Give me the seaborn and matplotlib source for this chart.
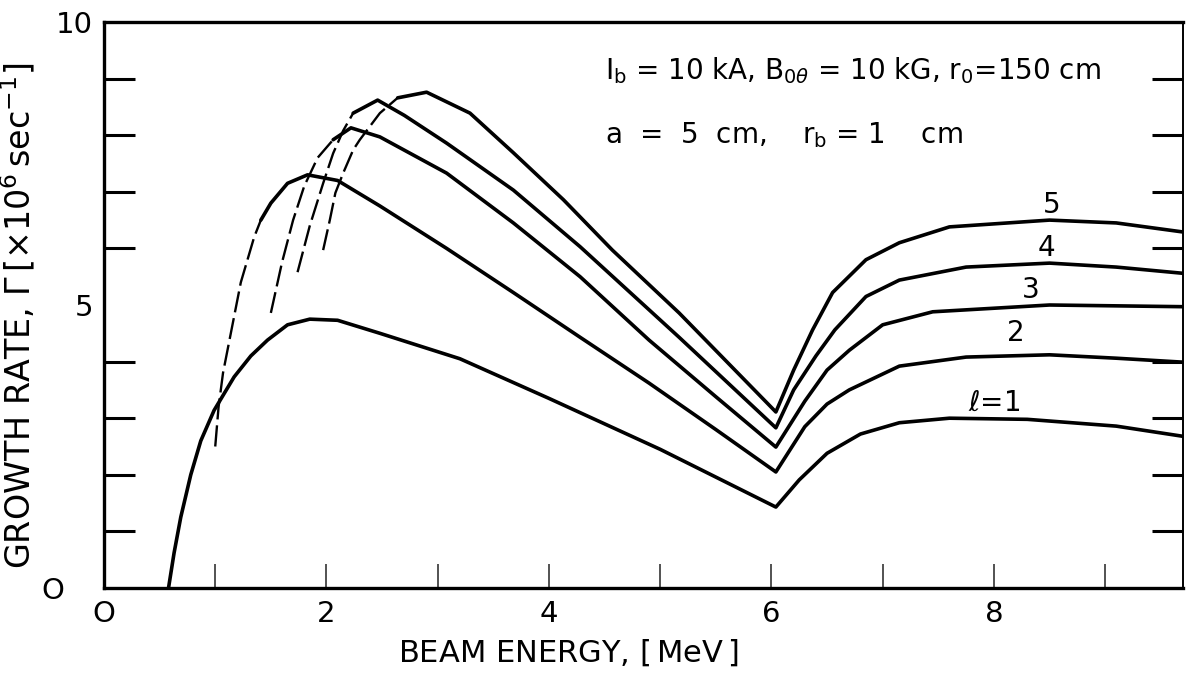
import numpy as np
import pandas as pd
import seaborn as sns
import matplotlib
matplotlib.use("Agg")
import matplotlib.pyplot as plt

# growth rate curves, l = 1..5
# "rise" = the broken (dashed) left branch, "main" = solid rest
l1_x = [0.58, 0.63, 0.69, 0.78, 0.87, 0.99, 1.17, 1.32, 1.47, 1.65, 1.85, 2.1, 2.48, 3.2, 4.0, 5.0,
        6.04, 6.25, 6.5, 6.8, 7.15, 7.6, 8.3, 9.1, 9.7]
l1_y = [0.0, 0.62, 1.25, 2.0, 2.6, 3.14, 3.73, 4.1, 4.38, 4.65, 4.75, 4.73, 4.5, 4.05, 3.35, 2.45,
        1.43, 1.91, 2.38, 2.72, 2.92, 3.0, 2.98, 2.86, 2.68]

l2_rise_x = [1.0, 1.03, 1.07, 1.14, 1.23, 1.35, 1.41]
l2_rise_y = [2.5, 3.2, 3.8, 4.5, 5.4, 6.2, 6.5]
l2_x = [1.41, 1.5, 1.65, 1.83, 2.1, 2.48, 3.08, 3.68, 4.28, 4.9, 5.5, 6.04,
        6.3, 6.5, 6.7, 7.15, 7.75, 8.5, 9.1, 9.7]
l2_y = [6.5, 6.8, 7.15, 7.3, 7.2, 6.75, 6.0, 5.22, 4.43, 3.62, 2.8, 2.05,
        2.85, 3.25, 3.5, 3.92, 4.08, 4.12, 4.06, 3.99]

l3_rise_x = [1.5, 1.6, 1.7, 1.8, 1.92, 2.06]
l3_rise_y = [4.86, 5.75, 6.5, 7.1, 7.6, 7.92]
l3_x = [2.06, 2.22, 2.48, 3.08, 3.68, 4.28, 4.9, 5.5, 6.04,
        6.3, 6.5, 6.7, 7.0, 7.45, 8.5, 9.7]
l3_y = [7.92, 8.13, 7.97, 7.33, 6.45, 5.5, 4.38, 3.38, 2.49,
        3.3, 3.85, 4.2, 4.65, 4.88, 5.0, 4.97]

l4_rise_x = [1.74, 1.85, 1.97, 2.06, 2.15, 2.24]
l4_rise_y = [5.58, 6.4, 7.15, 7.68, 8.08, 8.39]
l4_x = [2.24, 2.46, 2.7, 3.08, 3.68, 4.28, 5.17, 6.04,
        6.2, 6.4, 6.57, 6.85, 7.15, 7.75, 8.5, 9.1, 9.7]
l4_y = [8.39, 8.62, 8.35, 7.86, 7.03, 6.03, 4.43, 2.83,
        3.5, 4.1, 4.56, 5.15, 5.44, 5.67, 5.74, 5.67, 5.56]

l5_rise_x = [1.97, 2.03, 2.08, 2.15, 2.24, 2.3, 2.48, 2.64]
l5_rise_y = [5.97, 6.5, 6.98, 7.33, 7.74, 7.92, 8.39, 8.66]
l5_x = [2.64, 2.9, 3.29, 3.68, 4.13, 4.57, 5.17, 6.04,
        6.2, 6.37, 6.55, 6.85, 7.15, 7.6, 8.5, 9.1, 9.7]
l5_y = [8.66, 8.76, 8.39, 7.69, 6.86, 5.97, 4.86, 3.11,
        3.85, 4.56, 5.22, 5.8, 6.1, 6.38, 6.5, 6.45, 6.29]

curve_labels = [r"$\ell$=1", "2", "3", "4", "5"]
label_x = [8.0, 8.2, 8.33, 8.47, 8.52]
label_y = [3.27, 4.5, 5.27, 6.0, 6.77]

x_ticks = [0, 2, 4, 6, 8]
y_ticks = [0, 5, 10]

sns.set_style("white")
plt.rcParams['font.family'] = ['DejaVu Sans']
plt.rcParams.update({"text.color": "black", "axes.labelcolor": "black",
                     "xtick.color": "black", "ytick.color": "black"})

fig = plt.figure(figsize=(11.87, 6.81), dpi=100)
ax = fig.add_axes([104 / 1187, 1 - 588 / 681, (1183 - 104) / 1187, (588 - 22) / 681])

solid = [(l1_x, l1_y), (l2_x, l2_y), (l3_x, l3_y), (l4_x, l4_y), (l5_x, l5_y)]
broken = [(l2_rise_x, l2_rise_y), (l3_rise_x, l3_rise_y), (l4_rise_x, l4_rise_y), (l5_rise_x, l5_rise_y)]

for xs, ys in solid:
    sns.lineplot(x=xs, y=ys, sort=False, estimator=None, color="black", lw=2.6, ax=ax)
for xs, ys in broken:
    sns.lineplot(x=xs, y=ys, sort=False, estimator=None, color="black", lw=1.7,
                 linestyle=(0, (9, 2.5)), ax=ax)

for lab, lx, ly in zip(curve_labels, label_x, label_y):
    ax.text(lx, ly, lab, fontsize=20, ha="center", va="center")

ax.text(4.5, 9.15, r"I$_\mathregular{b}$ = 10 kA, B$_{0\theta}$ = 10 kG, r$_\mathregular{0}$=150 cm",
        fontsize=20, ha="left", va="center")
ax.text(4.5, 8.0, r"a  =  5  cm,    r$_\mathregular{b}$ = 1    cm",
        fontsize=20, ha="left", va="center")

ax.set_xlim(0, 9.7)
ax.set_ylim(0, 10)

ax.set_xticks(x_ticks)
ax.set_xticklabels(["O", "2", "4", "6", "8"])
ax.set_xticks([1, 2.0001, 3, 4.0001, 5, 6.0001, 7, 8.0001, 9], minor=True)
ax.set_yticks(y_ticks)
ax.set_yticklabels(["O   ", "5", "10"])
ax.set_yticks(range(1, 10), minor=True)

ax.tick_params(axis="x", which="major", direction="in", length=0, labelsize=21, pad=9)
ax.tick_params(axis="x", which="minor", direction="in", length=17, width=1.3,
               color="#444444", bottom=True)
ax.tick_params(axis="y", which="major", direction="in", length=0, labelsize=21, pad=8)
ax.tick_params(axis="y", which="minor", direction="in", length=22, width=2.2,
               left=True, right=True)

for side in ["left", "bottom", "top"]:
    ax.spines[side].set_linewidth(2.4)
    ax.spines[side].set_color("black")
ax.spines["right"].set_linewidth(1.4)
ax.spines["right"].set_color("black")

ax.set_xlabel(r"BEAM ENERGY, $\left[\,\mathrm{MeV}\,\right]$", fontsize=22)
ax.xaxis.set_label_coords(0.43, -0.088)
ax.set_ylabel(r"GROWTH RATE, $\Gamma\,\left[\times10^{6}\,\mathrm{sec}^{-1}\right]$", fontsize=24)
ax.yaxis.set_label_coords(-0.062, 0.48)

fig.savefig("out.png", dpi=100)
